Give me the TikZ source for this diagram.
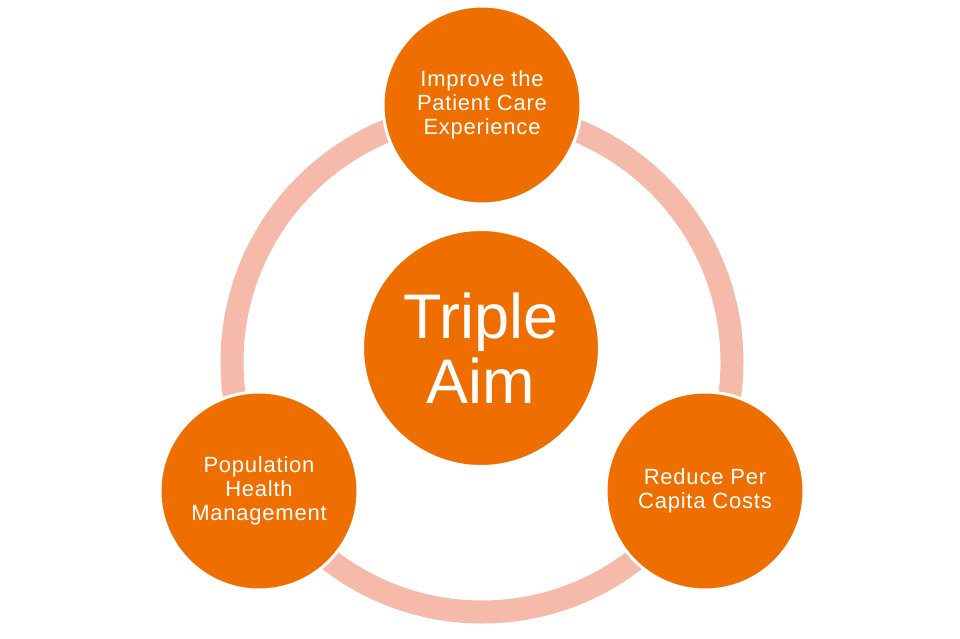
\documentclass[tikz,border=0pt]{standalone}
\usepackage{fontspec}
\setmainfont{Liberation Sans}
\newfontfamily\goalfont[LetterSpace=3.5]{Liberation Sans}
\definecolor{aimorange}{RGB}{238,110,0}
\definecolor{ringpink}{RGB}{245,186,170}
\tikzset{
  aimcircle/.style={circle,fill=aimorange,draw=white,line width=3pt,inner sep=0pt,
    text=white,align=center},
  goalcircle/.style={aimcircle,minimum size=198pt,font=\goalfont\fontsize{22}{24.3}\selectfont},
}
\begin{document}
\begin{tikzpicture}[x=1pt,y=-1pt]
\useasboundingbox (0,0) rectangle (960,639);
%\fill[red!10] (0,0) rectangle (960,639);
\draw[ringpink,line width=23pt] (482,362) circle (250);
\node[aimcircle,minimum size=237pt,font=\fontsize{63}{65}\selectfont] (aim) at (481,348) {Triple\\Aim};
\node[goalcircle] (care) at (482,105) {Improve the\\Patient Care\\Experience};
\node[goalcircle] (cost) at (705,491) {Reduce Per\\Capita Costs};
\node[goalcircle] (health) at (259,491) {Population\\Health\\Management};
\end{tikzpicture}
\end{document}
